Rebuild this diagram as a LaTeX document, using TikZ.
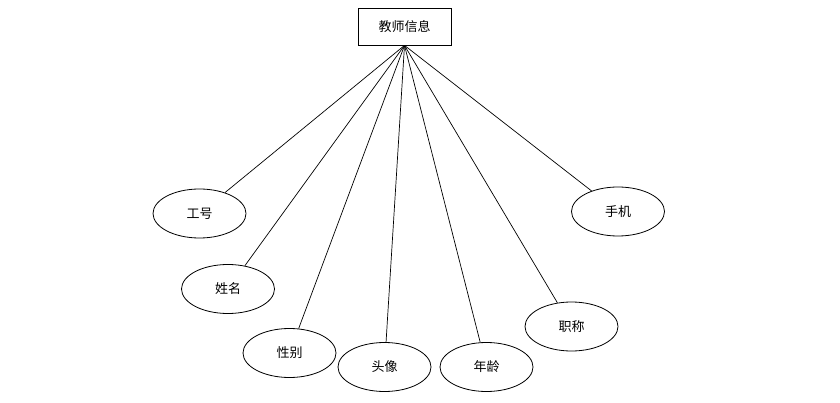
\documentclass[tikz,border=0pt]{standalone}
\usepackage{fontspec}
\newfontfamily\cjk{Noto Sans CJK SC}
\usetikzlibrary{shapes.geometric}
\begin{document}
\begin{tikzpicture}[x=1pt,y=-1pt,
  ent/.style={draw,line width=0.8pt,rectangle,minimum width=93pt,minimum height=37pt,inner sep=0pt,font=\cjk\fontsize{13}{15}\selectfont},
  attr/.style={draw,line width=0.8pt,ellipse,minimum width=93pt,minimum height=49pt,inner sep=0pt,font=\cjk\fontsize{13}{15}\selectfont},
  link/.style={line width=0.7pt}]
\useasboundingbox (0,0) rectangle (840,403);
\node[ent] (t) at (404.5,26.5) {教师信息};
\node[attr] (a1) at (199.5,213.5) {工号};
\node[attr] (a2) at (228,289) {姓名};
\node[attr] (a3) at (289.5,353) {性别};
\node[attr] (a4) at (384.5,367) {头像};
\node[attr] (a5) at (486.5,367) {年龄};
\node[attr] (a6) at (571.5,326.5) {职称};
\node[attr] (a7) at (618,211.5) {手机};
\foreach \n in {a1,a2,a3,a4,a5,a6,a7}
  \draw[link] (t.south) -- (\n);
\end{tikzpicture}
\end{document}
